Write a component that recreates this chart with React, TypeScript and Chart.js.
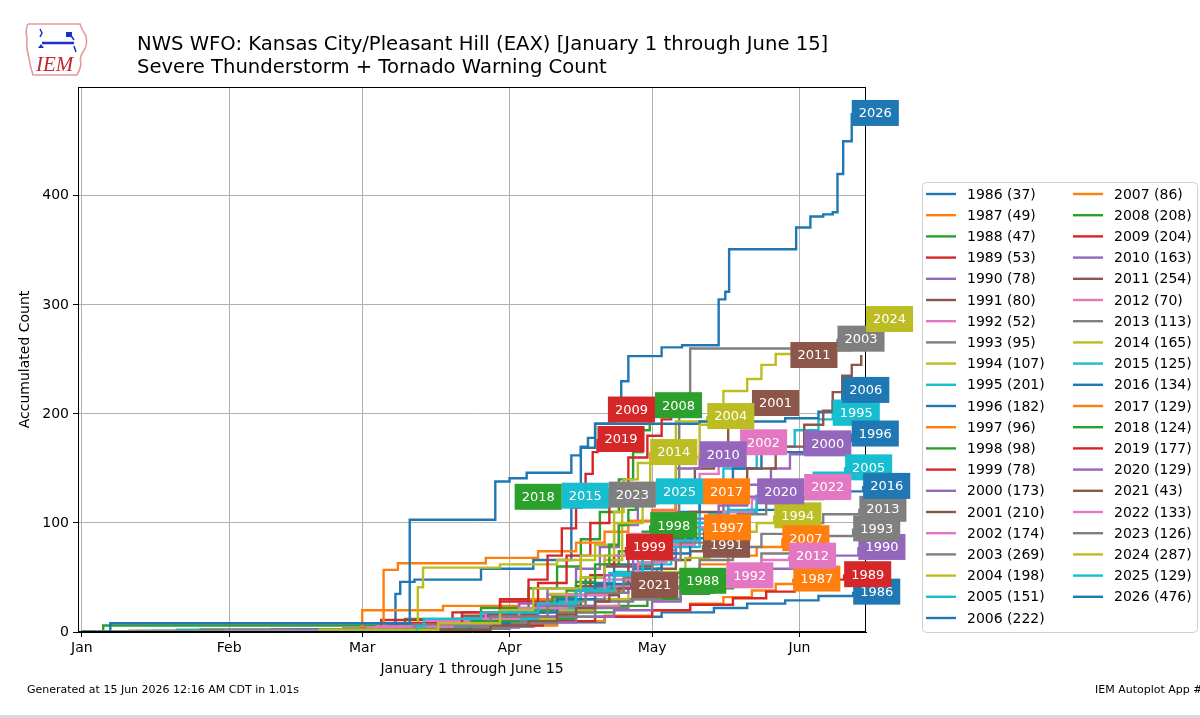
import React, { useEffect, useRef } from "react";
import { Chart, registerables } from "chart.js";

Chart.register(...registerables);

const FONT = '"DejaVu Sans", sans-serif';

const TITLE_LINES = [
  "NWS WFO: Kansas City/Pleasant Hill (EAX) [January 1 through June 15]",
  "Severe Thunderstorm + Tornado Warning Count",
];
const Y_TITLE = "Accumulated Count";
const X_TITLE = "January 1 through June 15";
const FOOTER_LEFT = "Generated at 15 Jun 2026 12:16 AM CDT in 1.01s";
const FOOTER_RIGHT = "IEM Autoplot App #203";

const MONTH_TICKS = [0, 31, 59, 90, 120, 151];
const MONTH_LABELS = ["Jan", "Feb", "Mar", "Apr", "May", "Jun"];
const Y_TICKS = [0, 100, 200, 300, 400];
const X_MIN = -0.8;
const X_MAX = 165;
const Y_MAX = 499.8;

const YEARS = [
  1986, 1987, 1988, 1989, 1990, 1991, 1992, 1993, 1994, 1995, 1996, 1997, 1998, 1999,
  2000, 2001, 2002, 2003, 2004, 2005, 2006, 2007, 2008, 2009, 2010, 2011, 2012, 2013,
  2014, 2015, 2016, 2017, 2018, 2019, 2020, 2021, 2022, 2023, 2024, 2025, 2026,
];

const TAB10 = [
  "#1f77b4", "#ff7f0e", "#2ca02c", "#d62728", "#9467bd",
  "#8c564b", "#e377c2", "#7f7f7f", "#bcbd22", "#17becf",
];

// [day of year (0 = Jan 1), accumulated count]
const s1986 = [[0, 0], [62, 2], [80, 5], [95, 9], [110, 14], [122, 18], [133, 22], [140, 26], [148, 29], [155, 33], [162.3, 37]];
const s1987 = [[0, 0], [70, 3], [88, 6], [100, 10], [110, 15], [120, 20], [128, 26], [135, 32], [141, 38], [146, 44], [149.7, 49]];
const s1988 = [[0, 0], [4.5, 6], [75, 8], [92, 12], [104, 18], [112, 24], [119, 30], [126, 35], [132, 40], [137, 44], [140, 47]];
const s1989 = [[0, 0], [64, 3], [85, 6], [97, 10], [108, 14], [120, 20], [128, 25], [137, 31], [144, 37], [150, 43], [156, 48], [160.4, 53]];
const s1990 = [[0, 0], [78, 4], [92, 9], [104, 14], [112, 20], [120, 28], [126, 36], [133, 44], [138, 52], [144, 58], [150, 64], [156, 70], [163.4, 78]];
const s1991 = [[0, 0], [66, 3], [80, 8], [94, 14], [102, 22], [108, 30], [113, 40], [117, 50], [121, 58], [125, 66], [128, 74], [130.7, 80]];
const s1992 = [[0, 0], [40, 2], [68, 6], [86, 12], [98, 18], [106, 24], [113, 30], [119, 36], [125, 42], [131, 47], [135.6, 52]];
const s1993 = [[0, 0], [75, 3], [90, 8], [100, 14], [108, 22], [115, 30], [122, 40], [130, 52], [137, 62], [143, 72], [150, 80], [156, 88], [162.3, 95]];
const s1994 = [[0, 0], [45, 1], [73, 5], [88, 12], [100, 20], [108, 30], [115, 42], [121, 55], [127, 68], [132, 80], [137, 92], [142, 100], [145.7, 107]];
const s1995 = [[0, 0], [20, 2], [66, 6], [80, 14], [95, 25], [104, 40], [112, 55], [118, 75], [125, 100], [130, 125], [135, 150], [142, 170], [150, 185], [155, 195], [158, 201]];
const s1996 = [[0, 0], [50, 2], [72, 8], [86, 18], [98, 30], [105, 45], [112, 62], [118, 85], [125, 110], [130, 130], [137, 150], [143, 165], [152, 175], [162, 182]];
const s1997 = [[0, 0], [59, 4], [74, 10], [88, 18], [98, 28], [106, 40], [112, 52], [117, 62], [121, 72], [125, 82], [128, 90], [130.9, 96]];
const s1998 = [[0, 0], [68, 4], [80, 10], [90, 18], [97, 28], [102, 38], [106, 50], [110, 62], [113, 74], [116, 84], [118, 92], [119.6, 98]];
const s1999 = [[0, 0], [60, 3], [74, 8], [86, 15], [95, 24], [100, 32], [104, 42], [107, 52], [110, 62], [112, 70], [114.5, 78]];
const s2000 = [[0, 0], [30, 1], [72, 6], [88, 14], [100, 24], [108, 36], [115, 50], [120, 68], [125, 85], [130, 100], [135, 118], [140, 135], [145, 150], [149, 163], [152, 173]];
const s2001 = [[0, 0], [25, 2], [70, 8], [85, 16], [96, 28], [104, 42], [110, 60], [115, 80], [120, 100], [125, 125], [129, 150], [133, 170], [136, 190], [139, 200], [141, 210]];
const s2002 = [[0, 0], [55, 3], [75, 10], [88, 20], [98, 34], [105, 50], [110, 70], [115, 90], [120, 110], [125, 128], [130, 145], [134, 160], [136.5, 168], [138.5, 174]];
const s2003 = [[0, 0], [45, 2], [63, 6], [78, 12], [90, 20], [100, 30], [110, 42], [117, 55], [122, 72], [124, 90], [125.7, 200], [128, 260], [155, 262], [159, 269]];
const s2004 = [[0, 0], [60, 3], [75, 10], [88, 20], [98, 35], [105, 50], [110, 66], [113.7, 118], [119.6, 157], [124, 175], [125, 193], [131.6, 198]];
const s2005 = [[0, 0], [15, 1], [67, 5], [85, 12], [96, 22], [104, 34], [112, 48], [118, 62], [124, 78], [130, 94], [136, 110], [142, 125], [148, 138], [154, 146], [160.6, 151]];
const s2006 = [[0, 0], [66, 35], [67, 46], [70, 48], [84, 58], [95, 66], [103, 114], [105, 169], [108, 191], [130, 193], [148, 196], [155, 202], [158, 212], [160, 222]];
const s2007 = [[0, 0], [59, 20], [76, 24], [92, 30], [104, 38], [114, 46], [122, 54], [130, 62], [136, 70], [142, 78], [147.4, 86]];
const s2008 = [[0, 0], [40, 2], [68, 12], [84, 22], [94, 40], [100, 60], [105, 85], [109, 110], [113, 140], [116, 165], [118, 185], [119.5, 200], [120.6, 208]];
const s2009 = [[0, 0], [63, 11], [78, 18], [88, 28], [96, 45], [102, 70], [107, 100], [111, 130], [115, 160], [119, 180], [122, 195], [124, 204]];
const s2010 = [[0, 0], [35, 1], [70, 6], [84, 14], [92, 26], [98, 40], [104, 58], [109, 78], [113, 98], [117, 118], [121, 135], [125, 150], [130, 163]];
const s2011 = [[0, 0], [10, 1], [55, 3], [65, 8], [80, 15], [95, 25], [105, 40], [115, 60], [120, 85], [128, 110], [136, 130], [140, 150], [146, 170], [152, 190], [156, 203], [158, 220], [160, 235], [162, 245], [164, 254]];
const s2012 = [[0, 0], [10, 1], [60, 4], [72, 10], [85, 18], [96, 26], [104, 34], [112, 42], [120, 50], [128, 56], [136, 62], [143, 66], [148.8, 70]];
const s2013 = [[0, 0], [20, 1], [72, 4], [88, 10], [100, 18], [108, 28], [116, 40], [124, 54], [130, 66], [137, 78], [143, 90], [150, 100], [156, 108], [163.6, 113]];
const s2014 = [[0, 0], [70.7, 41], [71.8, 59], [88, 62], [100, 66], [108, 80], [112, 110], [114, 140], [117, 155], [119.6, 165]];
const s2015 = [[0, 0], [12, 1], [68, 4], [82, 10], [92, 18], [99, 28], [105, 40], [111, 54], [117, 68], [122, 82], [127, 96], [132, 108], [136, 118], [140, 125]];
const s2016 = [[0, 0], [45, 2], [74, 8], [90, 18], [100, 30], [108, 44], [116, 58], [122, 72], [128, 86], [134, 100], [140, 112], [148, 122], [156, 129], [164.4, 134]];
const s2017 = [[0, 0], [63.5, 57], [66.5, 63], [85, 68], [96, 74], [104, 82], [110, 92], [115, 102], [120, 112], [125, 120], [130.7, 129]];
const s2018 = [[0, 0], [68, 3], [82, 10], [92, 20], [99, 32], [104, 46], [108, 62], [111, 80], [113, 98], [115, 112], [116.6, 124]];
const s2019 = [[0, 0], [55, 2], [70, 8], [80, 18], [88, 30], [94, 48], [98, 70], [101, 95], [104, 120], [106, 145], [107.5, 165], [108.5, 177]];
const s2020 = [[0, 0], [40, 2], [70, 6], [86, 14], [96, 24], [104, 38], [110, 52], [116, 70], [122, 88], [128, 104], [134, 116], [140, 124], [145, 129]];
const s2021 = [[0, 0], [72, 2], [86, 6], [94, 10], [100, 16], [104, 22], [108, 28], [111, 34], [113, 40], [115.6, 43]];
const s2022 = [[0, 0], [30, 1], [62, 5], [78, 12], [92, 22], [102, 34], [110, 48], [117, 64], [123, 80], [129, 96], [135, 110], [141, 122], [147, 130], [152, 133]];
const s2023 = [[0, 0], [50, 2], [70, 7], [86, 14], [98, 24], [106, 36], [114, 50], [120, 66], [126, 82], [132, 96], [138, 108], [144, 118], [150, 124], [153.6, 126]];
const s2024 = [[0, 0], [50, 2], [75, 8], [88, 20], [95, 40], [105, 70], [112, 100], [118, 130], [125, 160], [130, 190], [134, 203], [135, 221], [140, 232], [143, 245], [146, 255], [155, 258], [162, 270], [165, 287]];
const s2025 = [[0, 0], [70.5, 5], [72, 12], [84, 18], [96, 26], [104, 38], [112, 52], [118, 68], [124, 84], [130, 100], [136, 112], [142, 122], [148, 129]];
const s2026 = [[0, 0], [6, 8], [69, 103], [87, 138], [90, 141], [93.6, 146], [103, 162], [105, 170], [106.5, 178], [108, 191], [112, 200], [113.5, 230], [115, 253], [122, 261], [126.3, 263], [134, 305], [135.4, 312], [136.2, 351], [150.3, 371], [153.3, 381], [156, 383], [158, 385], [159, 420], [160.2, 450], [162, 476]];

const SERIES = [
  s1986, s1987, s1988, s1989, s1990, s1991, s1992, s1993, s1994, s1995, s1996, s1997, s1998, s1999,
  s2000, s2001, s2002, s2003, s2004, s2005, s2006, s2007, s2008, s2009, s2010, s2011, s2012, s2013,
  s2014, s2015, s2016, s2017, s2018, s2019, s2020, s2021, s2022, s2023, s2024, s2025, s2026,
];

const colorOf = (i: number) => TAB10[i % 10];
const totalOf = (i: number) => SERIES[i][SERIES[i].length - 1][1];

function drawLogo(ctx: CanvasRenderingContext2D) {
  ctx.save();
  ctx.strokeStyle = "#e59a9a";
  ctx.lineWidth = 1.6;
  ctx.beginPath();
  ctx.moveTo(28, 24);
  ctx.lineTo(80, 24);
  ctx.quadraticCurveTo(82, 30, 86, 36);
  ctx.quadraticCurveTo(88, 46, 83, 52);
  ctx.quadraticCurveTo(79, 58, 81, 64);
  ctx.quadraticCurveTo(80, 70, 77, 75);
  ctx.lineTo(33, 75);
  ctx.quadraticCurveTo(30, 66, 29, 58);
  ctx.quadraticCurveTo(26, 48, 27, 38);
  ctx.quadraticCurveTo(25, 30, 28, 24);
  ctx.stroke();
  ctx.strokeStyle = "#1d2fd0";
  ctx.fillStyle = "#1d2fd0";
  ctx.lineWidth = 2.5;
  ctx.beginPath();
  ctx.moveTo(42, 43);
  ctx.lineTo(74, 43);
  ctx.stroke();
  ctx.lineWidth = 1.5;
  ctx.beginPath();
  ctx.moveTo(40, 29);
  ctx.lineTo(42, 33);
  ctx.lineTo(40, 37);
  ctx.moveTo(70, 34);
  ctx.lineTo(74, 40);
  ctx.moveTo(74, 46);
  ctx.lineTo(76, 52);
  ctx.stroke();
  ctx.fillRect(66, 32, 6, 5);
  ctx.beginPath();
  ctx.moveTo(38, 48);
  ctx.lineTo(41, 44);
  ctx.lineTo(44, 48);
  ctx.fill();
  ctx.fillStyle = "#c0282d";
  ctx.font = 'italic 21px "Liberation Serif", serif';
  ctx.textAlign = "left";
  ctx.textBaseline = "alphabetic";
  ctx.fillText("IEM", 36, 71);
  ctx.restore();
}

const decorPlugin = {
  id: "decor",
  afterDatasetsDraw(chart: any) {
    const { ctx, chartArea: a, scales } = chart;
    ctx.save();
    // spines
    ctx.strokeStyle = "#000";
    ctx.lineWidth = 1;
    ctx.strokeRect(Math.round(a.left) + 0.5, Math.round(a.top) + 0.5, Math.round(a.right - a.left) - 1, Math.round(a.bottom - a.top) - 1);

    // end labels (kept at their final value, nudged left when they collide)
    const xs = scales.x;
    const ys = scales.y;
    ctx.font = `13px ${FONT}`;
    const h = 26;
    const tol = 8;
    const items = SERIES.map((s, i) => {
      const last = s[s.length - 1];
      return {
        i,
        v: last[1],
        x: xs.getPixelForValue(last[0]),
        y: ys.getPixelForValue(last[1]),
        w: ctx.measureText(String(YEARS[i])).width + 14,
      };
    });
    const order = [...items].sort((p, q) => q.v - p.v || p.i - q.i);
    const placed: any[] = [];
    for (const it of order) {
      let x = it.x;
      let moved = true;
      while (moved) {
        moved = false;
        for (const p of placed) {
          if (Math.abs(p.y - it.y) < 17 && x < p.x + p.w - tol && p.x < x + it.w - tol) {
            x = p.x - it.w;
            moved = true;
          }
        }
      }
      it.x = x;
      placed.push(it);
    }
    for (const it of items) {
      ctx.fillStyle = colorOf(it.i);
      ctx.fillRect(it.x, it.y - h / 2, it.w, h);
      ctx.fillStyle = "#fff";
      ctx.textAlign = "center";
      ctx.textBaseline = "middle";
      ctx.fillText(String(YEARS[it.i]), it.x + it.w / 2, it.y + 1);
    }
    ctx.restore();
  },
  afterDraw(chart: any) {
    const { ctx, chartArea: a } = chart;
    ctx.save();
    // title
    ctx.fillStyle = "#000";
    ctx.font = `19.6px ${FONT}`;
    ctx.textAlign = "left";
    ctx.textBaseline = "middle";
    ctx.fillText(TITLE_LINES[0], 137, 45);
    ctx.fillText(TITLE_LINES[1], 137, 68);
    // axis titles
    ctx.font = `14px ${FONT}`;
    ctx.textAlign = "center";
    ctx.fillText(X_TITLE, (a.left + a.right) / 2, 669);
    ctx.save();
    ctx.translate(25, (a.top + a.bottom) / 2);
    ctx.rotate(-Math.PI / 2);
    ctx.fillText(Y_TITLE, 0, 0);
    ctx.restore();
    // footer
    ctx.font = `11px ${FONT}`;
    ctx.textAlign = "left";
    ctx.fillText(FOOTER_LEFT, 27, 690);
    ctx.fillText(FOOTER_RIGHT, 1095, 690);
    ctx.fillStyle = "#d8d8d8";
    ctx.fillRect(0, 715, 1200, 3);
    // legend
    const lx = 922.5, ly = 182.5, lw = 275, lh = 450, r = 4;
    ctx.beginPath();
    ctx.moveTo(lx + r, ly);
    ctx.lineTo(lx + lw - r, ly);
    ctx.quadraticCurveTo(lx + lw, ly, lx + lw, ly + r);
    ctx.lineTo(lx + lw, ly + lh - r);
    ctx.quadraticCurveTo(lx + lw, ly + lh, lx + lw - r, ly + lh);
    ctx.lineTo(lx + r, ly + lh);
    ctx.quadraticCurveTo(lx, ly + lh, lx, ly + lh - r);
    ctx.lineTo(lx, ly + r);
    ctx.quadraticCurveTo(lx, ly, lx + r, ly);
    ctx.closePath();
    ctx.fillStyle = "rgba(255,255,255,0.85)";
    ctx.fill();
    ctx.strokeStyle = "#d0d0d0";
    ctx.lineWidth = 1;
    ctx.stroke();
    ctx.font = `14px ${FONT}`;
    ctx.textAlign = "left";
    ctx.textBaseline = "middle";
    const perCol = 21;
    YEARS.forEach((yr, i) => {
      const col = i < perCol ? 0 : 1;
      const row = col === 0 ? i : i - perCol;
      const y = 194 + row * 21.2;
      const x0 = col === 0 ? 926 : 1073;
      ctx.strokeStyle = colorOf(i);
      ctx.lineWidth = 2.4;
      ctx.beginPath();
      ctx.moveTo(x0, y);
      ctx.lineTo(x0 + 30, y);
      ctx.stroke();
      ctx.fillStyle = "#000";
      ctx.fillText(`${yr} (${totalOf(i)})`, x0 + 41, y + 1);
    });
    drawLogo(ctx);
    ctx.restore();
  },
};

export default function App() {
  const ref = useRef<HTMLCanvasElement | null>(null);
  useEffect(() => {
    if (!ref.current) return;
    const n = SERIES.length;
    const chart = new Chart(ref.current, {
      type: "line",
      data: {
        datasets: SERIES.map((s, i) => ({
          label: String(YEARS[i]),
          data: s.map(([x, y]) => ({ x, y })),
          borderColor: colorOf(i),
          backgroundColor: colorOf(i),
          borderWidth: 2.4,
          pointRadius: 0,
          stepped: "before" as const,
          fill: false,
          order: n - 1 - i,
        })),
      },
      options: {
        animation: false,
        responsive: false,
        maintainAspectRatio: false,
        events: [],
        layout: { padding: { top: 87, right: 334, bottom: 0, left: 0 } },
        plugins: { legend: { display: false }, title: { display: false }, tooltip: { enabled: false } },
        scales: {
          x: {
            type: "linear",
            min: X_MIN,
            max: X_MAX,
            afterFit: (s: any) => { s.height = 86; },
            afterBuildTicks: (s: any) => { s.ticks = MONTH_TICKS.map((v) => ({ value: v })); },
            ticks: {
              color: "#000",
              font: { family: FONT, size: 14 },
              padding: 3,
              maxRotation: 0,
              autoSkip: false,
              callback: (_v: any, idx: number) => MONTH_LABELS[idx],
            },
            grid: { color: "#b0b0b0", lineWidth: 1, tickColor: "#000", tickLength: 5, drawTicks: true },
            border: { display: true, color: "#000", width: 1 },
          },
          y: {
            type: "linear",
            min: 0,
            max: Y_MAX,
            afterFit: (s: any) => { s.width = 78; },
            afterBuildTicks: (s: any) => { s.ticks = Y_TICKS.map((v) => ({ value: v })); },
            ticks: {
              color: "#000",
              font: { family: FONT, size: 14 },
              padding: 4,
              callback: (v: any) => String(v),
            },
            grid: { color: "#b0b0b0", lineWidth: 1, tickColor: "#000", tickLength: 5, drawTicks: true },
            border: { display: true, color: "#000", width: 1 },
          },
        },
      },
      plugins: [decorPlugin],
    } as any);
    return () => chart.destroy();
  }, []);
  return (
    <div style={{ position: "fixed", left: 0, top: 0, width: 1200, height: 718, background: "#fff" }}>
      <canvas ref={ref} width={1200} height={718} style={{ width: 1200, height: 718, display: "block" }} />
    </div>
  );
}
